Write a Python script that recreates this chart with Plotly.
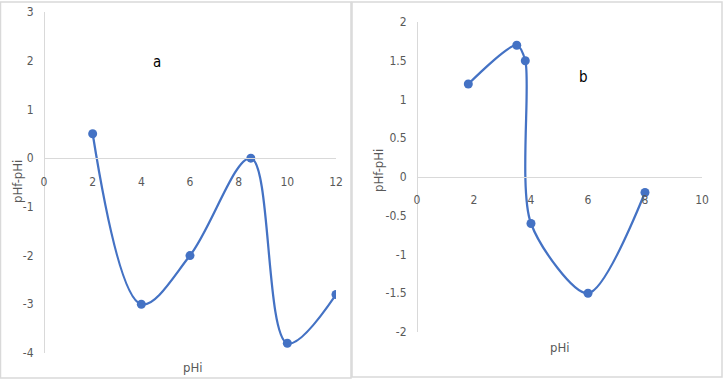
import plotly.graph_objects as go

# Panel a data
a_x = [2, 4, 6, 8.5, 10, 12]
a_y = [0.5, -3, -2, 0, -3.8, -2.8]
# Panel b data
b_x = [1.8, 3.5, 3.8, 4.0, 6, 8]
b_y = [1.2, 1.7, 1.5, -0.6, -1.5, -0.2]

a_xticks = [0, 2, 4, 6, 8, 10, 12]
a_yticks = [-4, -3, -2, -1, 0, 1, 2, 3]
a_ytext = ["-4", "-3", "-2", "-1", "0", "1", "2", "3"]
b_xticks = [0, 2, 4, 6, 8, 10]
b_yticks = [-2, -1.5, -1, -0.5, 0, 0.5, 1, 1.5, 2]
b_ytext = ["-2", "-1.5", "-1", "-0.5", "0", "0.5", "1", "1.5", "2"]

W, H = 724, 381
FONT = "Liberation Sans Narrow, DejaVu Sans Condensed, Roboto, sans-serif"
BLUE = "#4472C4"
AXC = "#d9d9d9"
TXT = "#595959"

def px_x(p):
    return p / W

def px_y(p):
    return 1 - p / H

a_xr, a_yr = [0, 12], [-4, 3]
b_xr, b_yr = [0, 10], [-2, 2]
a_xd = [px_x(44), px_x(336)]
a_yd = [px_y(353), px_y(12)]
b_xd = [px_x(417), px_x(702)]
b_yd = [px_y(332), px_y(22)]

def zero_pos(yr, yd):
    return yd[0] + (0 - yr[0]) / (yr[1] - yr[0]) * (yd[1] - yd[0])

fig = go.Figure()
fig.add_trace(go.Scatter(x=a_x, y=a_y, mode="lines+markers", xaxis="x", yaxis="y",
                         line=dict(color=BLUE, width=2.25, shape="spline", smoothing=1),
                         marker=dict(color=BLUE, size=9), showlegend=False))
fig.add_trace(go.Scatter(x=b_x, y=b_y, mode="lines+markers", xaxis="x2", yaxis="y2",
                         line=dict(color=BLUE, width=2.25, shape="spline", smoothing=0.8),
                         marker=dict(color=BLUE, size=9), showlegend=False))

tickfont = dict(family=FONT, size=12, color=TXT)
common_x = dict(showgrid=False, zeroline=False, showline=True, linecolor=AXC, linewidth=1,
                ticks="", tickfont=tickfont, ticklabelstandoff=12, fixedrange=True,
                automargin=False)
common_y = dict(showgrid=False, zeroline=False, showline=True, linecolor=AXC, linewidth=1,
                ticks="", tickfont=tickfont, ticklabelstandoff=8, fixedrange=True,
                automargin=False)

def ann(text, x, y, size=13, color=TXT, angle=0):
    return dict(text=text, xref="paper", yref="paper", x=px_x(x), y=px_y(y),
                xanchor="center", yanchor="middle", textangle=angle, showarrow=False,
                font=dict(family=FONT, size=size, color=color))

fig.update_layout(
    width=W, height=H, autosize=False, margin=dict(l=0, r=0, t=0, b=0, pad=0),
    paper_bgcolor="white", plot_bgcolor="rgba(0,0,0,0)",
    xaxis=dict(common_x, range=a_xr, domain=a_xd, anchor="free",
               position=zero_pos(a_yr, a_yd), tickvals=a_xticks),
    yaxis=dict(common_y, range=a_yr, domain=a_yd, anchor="free", position=a_xd[0],
               tickvals=a_yticks, ticktext=a_ytext),
    xaxis2=dict(common_x, range=b_xr, domain=b_xd, anchor="free",
                position=zero_pos(b_yr, b_yd), tickvals=b_xticks),
    yaxis2=dict(common_y, range=b_yr, domain=b_yd, anchor="free", position=b_xd[0],
                tickvals=b_yticks, ticktext=b_ytext),
    shapes=[
        dict(type="rect", xref="paper", yref="paper", x0=px_x(0.5), x1=px_x(351),
             y0=px_y(378), y1=px_y(2), line=dict(color="#d9d9d9", width=1.5)),
        dict(type="rect", xref="paper", yref="paper", x0=px_x(352), x1=px_x(722),
             y0=px_y(377), y1=px_y(2), line=dict(color="#d9d9d9", width=1.5)),
    ],
    annotations=[
        ann("pHi", 192, 367),
        ann("pHf-pHi", 17, 182, angle=-90),
        ann("a", 157, 62, size=15, color="black"),
        ann("pHi", 559, 347),
        ann("pHf-pHi", 378, 171, angle=-90),
        ann("b", 583, 77, size=15, color="black"),
    ],
)

fig.write_html("out.html", config={"responsive": False, "displayModeBar": False},
               post_script="document.body.style.margin='0';document.body.style.overflow='hidden';")
